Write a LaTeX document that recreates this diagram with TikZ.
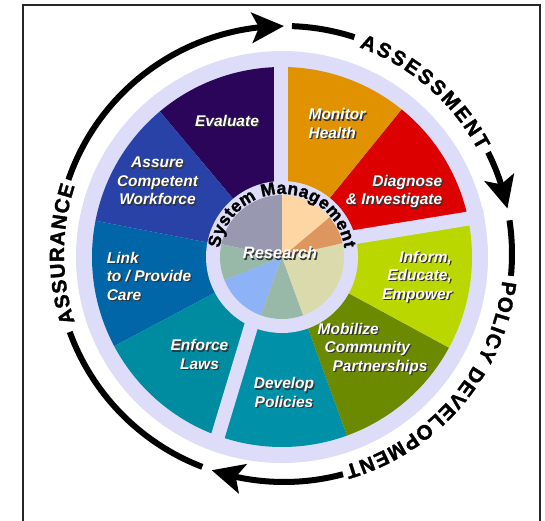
\documentclass[tikz,border=0pt]{standalone}
\usepackage{fontspec}
\setmainfont{Liberation Sans}
\newfontfamily\heavyfont[FakeBold=1.6]{Liberation Sans}
\usepackage{tikz}
\usetikzlibrary{decorations.text, arrows.meta, bending}

\definecolor{ring}{RGB}{221,221,250}
\definecolor{evalc}{RGB}{42,5,90}
\definecolor{assurec}{RGB}{40,66,168}
\definecolor{linkc}{RGB}{0,102,168}
\definecolor{enforcec}{RGB}{0,140,160}
\definecolor{developc}{RGB}{0,144,168}
\definecolor{mobilizec}{RGB}{108,138,0}
\definecolor{informc}{RGB}{186,216,0}
\definecolor{diagnosec}{RGB}{220,0,0}
\definecolor{monitorc}{RGB}{224,146,0}
\definecolor{pgray}{RGB}{152,152,176}
\definecolor{ppeach}{RGB}{253,214,164}
\definecolor{porange}{RGB}{222,150,95}
\definecolor{pkhaki}{RGB}{218,218,172}
\definecolor{psage}{RGB}{152,184,168}
\definecolor{pblue}{RGB}{142,178,246}

\newcommand\wlabel[4][]{%
  \node[lblshadow, #1, xshift=1.3pt, yshift=-1.3pt] at (#3) {#4};
  \node[lbl, #1] (#2) at (#3) {#4};}

\begin{document}
\begin{tikzpicture}[x=1pt, y=1pt,
    lbl/.style={font=\fontsize{15.5}{18.5}\selectfont\bfseries\itshape, text=white, inner sep=0pt, align=center},
    lblshadow/.style={lbl, text=black!80},
    band/.style={draw=ring, line width=14pt},
    cyc/.style={line width=6pt, -{Stealth[length=32pt, width=30pt, inset=7pt]}},
    cycline/.style={line width=6pt},
    cyctext/.style={decorate, decoration={text along path, text align={fit to path},
      text={|\fontsize{20.5}{20.5}\selectfont\heavyfont\bfseries|#1}}}]

  \useasboundingbox (-282,-263) rectangle (263,257);
  \fill[white] (-282,-263) rectangle (263,257);
  \draw[line width=1.8pt, black!85] (-259,-270) -- (-259,252) -- (258,252) -- (258,-270);

  % wheel
  \fill[ring] (0,0) circle[radius=206];
  \foreach \a/\b/\c in {90/130/evalc, 130/169/assurec, 169/208/linkc, 208/250.3/enforcec,
      250.3/290/developc, 290/331.5/mobilizec, 331.5/371.6/informc, 11.6/51/diagnosec, 51/90/monitorc}
    \fill[\c] (0,0) -- (\a:190) arc[start angle=\a, end angle=\b, radius=190] -- cycle;
  \draw[band] (-1.5,0) -- (-1.5,200);
  \draw[band] (0,8) -- (202,41);
  \draw[band] (-10,0) -- (-68,-192);

  % centre
  \fill[ring] (0,0) circle[radius=76];
  \foreach \a/\b/\c in {90/168/pgray, 168/202/psage, 202/250/pblue, 250/290/psage,
      290/373/pkhaki, 13/40/porange, 40/90/ppeach}
    \fill[\c] (0,0) -- (\a:62) arc[start angle=\a, end angle=\b, radius=62] -- cycle;
  \path[decorate, decoration={text along path, text align={fit to path},
      text={|\fontsize{17.5}{17.5}\selectfont\heavyfont\bfseries|System Management}}]
    (172:63) arc[start angle=172, end angle=8, radius=63];
  \wlabel[font=\fontsize{16.5}{18}\selectfont\bfseries\itshape]{research}{-2,4}{Research}

  % labels
  \wlabel{evaluate}{-55,136}{Evaluate}
  \wlabel[align=left]{monitor}{55,133.5}{Monitor\\Health}
  \wlabel[align=right]{diagnose}{112,65.5}{Diagnose\\\& Investigate}
  \wlabel[align=right]{inform}{135,-19.5}{Inform,\\Educate,\\Empower}
  \wlabel[align=left]{mobilize}{90.5,-91.5}{Mobilize\\\hspace*{7pt}Community\\\hspace*{15pt}Partnerships}
  \wlabel{develop}{2,-135.5}{Develop\\Policies}
  \wlabel{enforce}{-82.5,-97.5}{Enforce\\Laws}
  \wlabel[align=left]{link}{-133,-19}{Link\\to / Provide\\Care}
  \wlabel{assure}{-124.5,76}{Assure\\Competent\\Workforce}

  % cycle
  \begin{scope}[shift={(2,3)}]
    \draw[cyc] (161:228) arc[start angle=161, end angle=90, radius=228];
    \draw[cycline] (88:228) arc[start angle=88, end angle=72, radius=228];
    \path[cyctext=ASSESSMENT] (70:220) arc[start angle=70, end angle=28, radius=220];
    \draw[cyc] (26.5:228) arc[start angle=26.5, end angle=11.5, radius=228];
    \draw[cycline] (8.5:228) arc[start angle=8.5, end angle=-5.5, radius=228];
    \path[cyctext=POLICY DEVELOPMENT] (-7:220) arc[start angle=-7, end angle=-74, radius=220];
    \draw[cyc] (-75:228) arc[start angle=-75, end angle=-108.5, radius=228];
    \draw[cycline] (-111:228) arc[start angle=-111, end angle=-160, radius=228];
    \path[cyctext=ASSURANCE] (198:220) arc[start angle=198, end angle=162, radius=220];
  \end{scope}
\end{tikzpicture}
\end{document}
